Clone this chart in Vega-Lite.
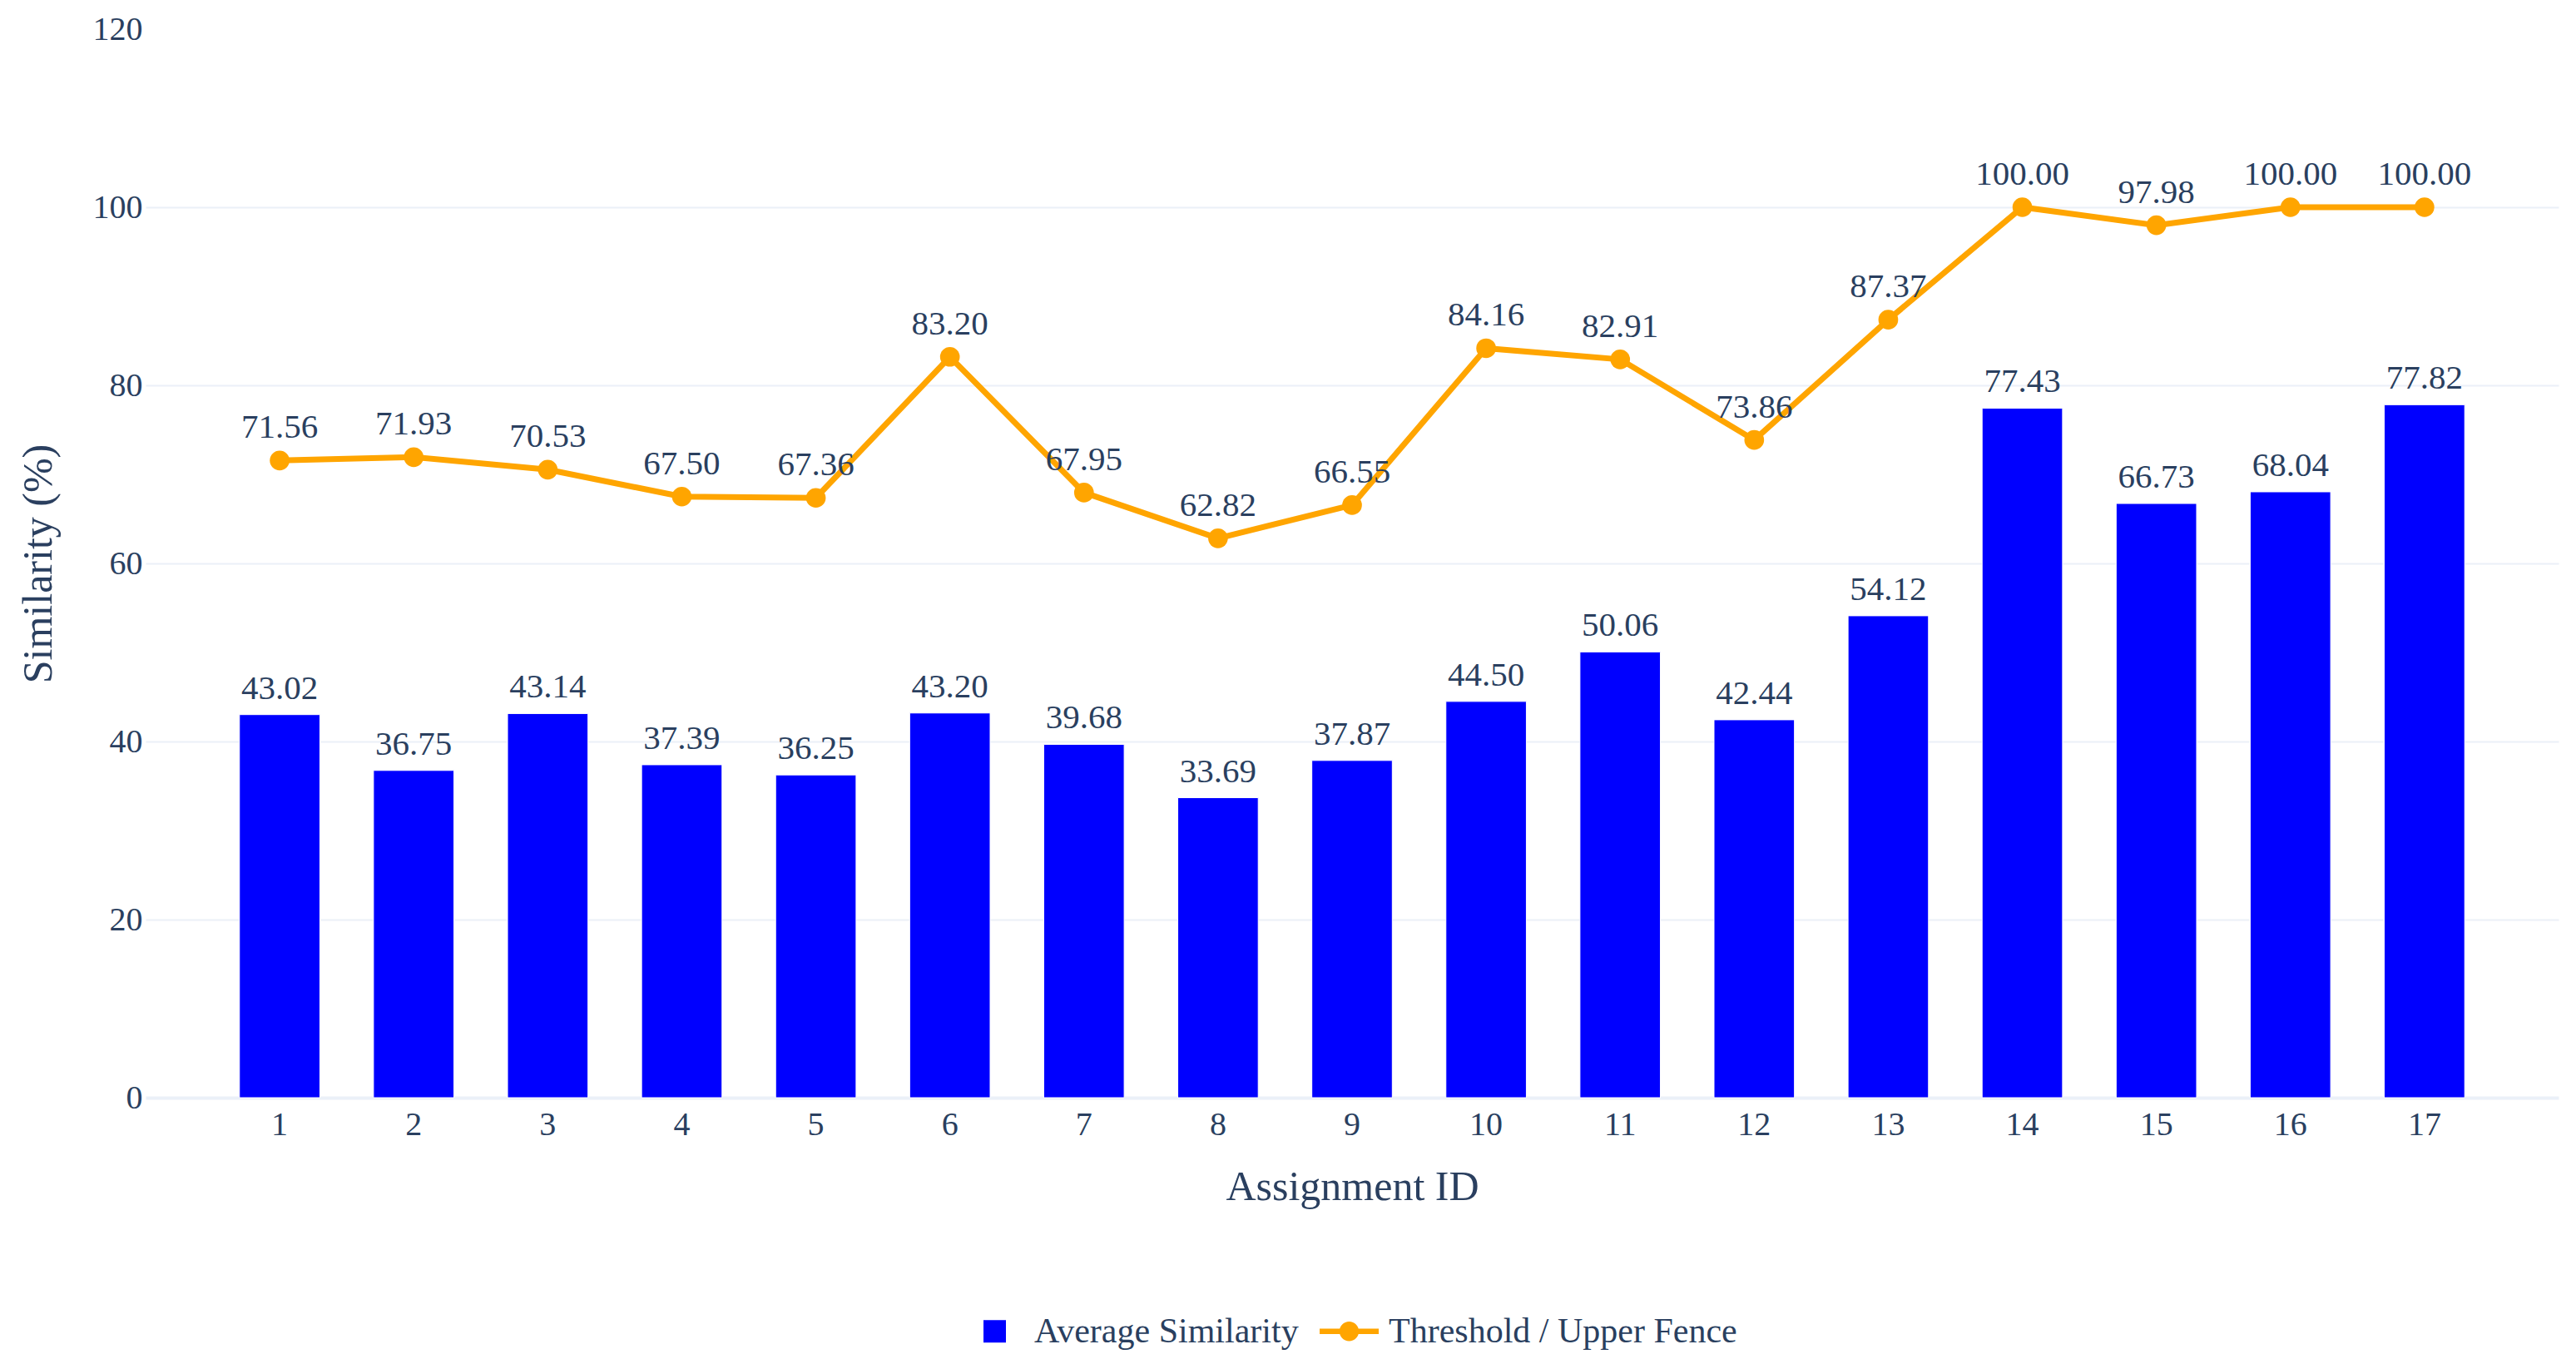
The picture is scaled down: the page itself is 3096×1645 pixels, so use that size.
{
  "$schema": "https://vega.github.io/schema/vega-lite/v6.json",
  "autosize": {"type": "none"},
  "width": 2900,
  "height": 1284,
  "padding": {"left": 175, "top": 35, "right": 21, "bottom": 326},
  "background": "white",
  "data": {
    "values": [
      {"id": 1, "avg": 43.02, "threshold": 71.56},
      {"id": 2, "avg": 36.75, "threshold": 71.93},
      {"id": 3, "avg": 43.14, "threshold": 70.53},
      {"id": 4, "avg": 37.39, "threshold": 67.50},
      {"id": 5, "avg": 36.25, "threshold": 67.36},
      {"id": 6, "avg": 43.20, "threshold": 83.20},
      {"id": 7, "avg": 39.68, "threshold": 67.95},
      {"id": 8, "avg": 33.69, "threshold": 62.82},
      {"id": 9, "avg": 37.87, "threshold": 66.55},
      {"id": 10, "avg": 44.50, "threshold": 84.16},
      {"id": 11, "avg": 50.06, "threshold": 82.91},
      {"id": 12, "avg": 42.44, "threshold": 73.86},
      {"id": 13, "avg": 54.12, "threshold": 87.37},
      {"id": 14, "avg": 77.43, "threshold": 100.00},
      {"id": 15, "avg": 66.73, "threshold": 97.98},
      {"id": 16, "avg": 68.04, "threshold": 100.00},
      {"id": 17, "avg": 77.82, "threshold": 100.00}
    ]
  },
  "encoding": {
    "x": {
      "field": "id",
      "type": "ordinal",
      "scale": {"paddingInner": 0.4, "paddingOuter": 0.7},
      "axis": {
        "title": "Assignment ID",
        "labelAngle": 0,
        "labelPadding": 12,
        "titlePadding": 30,
        "domain": false,
        "ticks": false,
        "grid": false
      }
    }
  },
  "layer": [
    {
      "mark": {"type": "bar", "stroke": "white", "strokeWidth": 1},
      "encoding": {
        "y": {
          "field": "avg",
          "type": "quantitative",
          "scale": {"domain": [0, 120], "nice": false},
          "axis": {
            "title": "Similarity (%)",
            "values": [0, 20, 40, 60, 80, 100, 120],
            "labelPadding": 4,
            "titlePadding": 40,
            "domain": false,
            "ticks": false,
            "gridColor": "#ebf0f8",
            "gridWidth": {"condition": {"test": "datum.value === 0", "value": 4}, "value": 2},
            "gridOpacity": {"condition": {"test": "datum.value === 120", "value": 0}, "value": 1}
          }
        },
        "color": {
          "datum": "Average Similarity",
          "legend": {
            "labelLimit": 0,
            "symbolType": "square",
            "encode": {
              "symbols": {
                "update": {
                  "shape": {"signal": "datum.value === 'Average Similarity' ? 'square' : 'M-1,-0.09H1V0.09H-1Z M-0.33,0A0.33,0.33 0 1,1 0.33,0A0.33,0.33 0 1,1 -0.33,0Z'"},
                  "size": {"signal": "datum.value === 'Average Similarity' ? 729 : 5041"},
                  "fill": {"signal": "datum.value === 'Average Similarity' ? '#0000ff' : '#ffa500'"},
                  "stroke": {"value": "transparent"},
                  "strokeWidth": {"value": 0},
                  "opacity": {"value": 1},
                  "fillOpacity": {"value": 1}
                }
              }
            }
          }
        }
      }
    },
    {
      "mark": {
        "type": "text",
        "baseline": "alphabetic",
        "dy": -19,
        "font": "Liberation Serif",
        "fontSize": 41,
        "color": "#2a3f5f"
      },
      "encoding": {
        "y": {"field": "avg", "type": "quantitative"},
        "text": {"field": "avg", "type": "quantitative", "format": ".2f"}
      }
    },
    {
      "mark": {
        "type": "line",
        "strokeWidth": 7,
        "point": {"filled": true, "size": 560, "opacity": 1}
      },
      "encoding": {
        "y": {"field": "threshold", "type": "quantitative"},
        "color": {
          "datum": "Threshold / Upper Fence",
          "legend": {
            "labelLimit": 0,
            "symbolType": "square",
            "encode": {
              "symbols": {
                "update": {
                  "shape": {"signal": "datum.value === 'Average Similarity' ? 'square' : 'M-1,-0.09H1V0.09H-1Z M-0.33,0A0.33,0.33 0 1,1 0.33,0A0.33,0.33 0 1,1 -0.33,0Z'"},
                  "size": {"signal": "datum.value === 'Average Similarity' ? 729 : 5041"},
                  "fill": {"signal": "datum.value === 'Average Similarity' ? '#0000ff' : '#ffa500'"},
                  "stroke": {"value": "transparent"},
                  "strokeWidth": {"value": 0},
                  "opacity": {"value": 1},
                  "fillOpacity": {"value": 1}
                }
              }
            }
          }
        }
      }
    },
    {
      "mark": {
        "type": "text",
        "baseline": "alphabetic",
        "dy": -27,
        "font": "Liberation Serif",
        "fontSize": 41,
        "color": "#2a3f5f"
      },
      "encoding": {
        "y": {"field": "threshold", "type": "quantitative"},
        "text": {"field": "threshold", "type": "quantitative", "format": ".2f"}
      }
    }
  ],
  "config": {
    "view": {"stroke": null},
    "font": "Liberation Serif",
    "axis": {
      "labelFont": "Liberation Serif",
      "labelFontSize": 40,
      "labelColor": "#2a3f5f",
      "titleFont": "Liberation Serif",
      "titleFontSize": 50,
      "titleFontWeight": "normal",
      "titleColor": "#2a3f5f"
    },
    "range": {"category": ["#0000ff", "#ffa500"]},
    "legend": {
      "orient": "none",
      "direction": "horizontal",
      "legendX": 985,
      "legendY": 1529,
      "title": null,
      "padding": 0,
      "labelFont": "Liberation Serif",
      "labelFontSize": 42,
      "labelColor": "#2a3f5f",
      "labelOffset": 12,
      "labelLimit": 0,
      "columnPadding": 25,
      "symbolSize": 5041,
      "symbolStrokeWidth": 0
    }
  }
}
